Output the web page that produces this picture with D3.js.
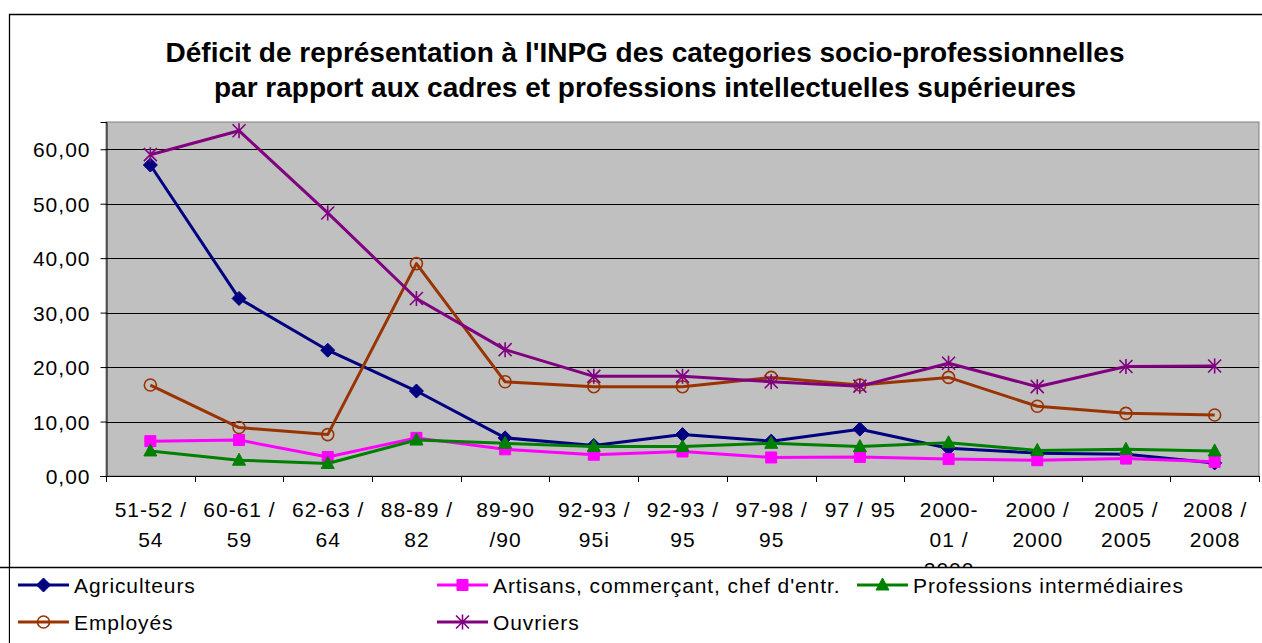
<!DOCTYPE html>
<html>
<head>
<meta charset="utf-8">
<script src="https://cdn.jsdelivr.net/npm/d3@7"></script>
<style>
  body { margin: 0; background: #fff; }
  text { font-family: "Liberation Sans", Arial, sans-serif; fill: #000; }
</style>
</head>
<body>
<div id="chart"></div>
<script>
"use strict";

// == DATA ==
var categories = [
  ["51-52 /", "54"], ["60-61 /", "59"], ["62-63 /", "64"], ["88-89 /", "82"],
  ["89-90", "/90"], ["92-93 /", "95i"], ["92-93 /", "95"], ["97-98 /", "95"],
  ["97 / 95"], ["2000-", "01 /", "2000"], ["2000 /", "2000"], ["2005 /", "2005"], ["2008 /", "2008"]
];
var agriculteurs = [57.1, 32.6, 23.1, 15.6, 7.0, 5.6, 7.6, 6.4, 8.6, 5.1, 4.2, 4.0, 2.4];
var artisans     = [6.4, 6.6, 3.5, 7.0, 4.9, 3.9, 4.5, 3.4, 3.5, 3.1, 2.9, 3.2, 2.6];
var professions  = [4.6, 2.9, 2.3, 6.6, 6.0, 5.4, 5.4, 6.0, 5.4, 6.1, 4.7, 4.9, 4.6];
var employes     = [16.7, 8.9, 7.6, 39.0, 17.3, 16.4, 16.4, 18.1, 16.7, 18.1, 12.8, 11.5, 11.2];
var ouvriers     = [59.0, 63.4, 48.3, 32.6, 23.2, 18.3, 18.3, 17.3, 16.5, 20.7, 16.4, 20.1, 20.2];
var yTicks = [0, 10, 20, 30, 40, 50, 60];

var series = [
  { name: "Agriculteurs", values: agriculteurs, color: "#000080", marker: "diamond" },
  { name: "Artisans, commerçant, chef d'entr.", values: artisans, color: "#FF00FF", marker: "square" },
  { name: "Professions intermédiaires", values: professions, color: "#008000", marker: "triangle" },
  { name: "Employés", values: employes, color: "#993300", marker: "circle" },
  { name: "Ouvriers", values: ouvriers, color: "#800080", marker: "star" }
];

var W = 1262, H = 643;
var plot = { left: 106, right: 1259, top: 122, bottom: 476 };

var svg = d3.select("#chart").append("svg")
  .attr("width", W).attr("height", H);

var x = d3.scaleBand()
  .domain(d3.range(categories.length))
  .range([plot.left, plot.right]);
var y = d3.scaleLinear().domain([0, 65]).range([plot.bottom, plot.top]);

// frame
svg.append("path")
  .attr("d", "M9.5," + H + "V14.5H" + W)
  .attr("fill", "none").attr("stroke", "#000").attr("stroke-width", 1.3);

// title
var title = svg.append("text")
  .attr("text-anchor", "middle")
  .style("font-weight", "bold").style("font-size", "28px");
title.append("tspan").attr("x", 645).attr("y", 62)
  .text("Déficit de représentation à l'INPG des categories socio-professionnelles");
title.append("tspan").attr("x", 645).attr("y", 97)
  .text("par rapport aux cadres et professions intellectuelles supérieures");

// plot area
svg.append("rect")
  .attr("x", plot.left).attr("y", plot.top)
  .attr("width", plot.right - plot.left).attr("height", plot.bottom - plot.top)
  .attr("fill", "#C0C0C0").attr("stroke", "#808080").attr("stroke-width", 1);

// gridlines
svg.selectAll(".grid").data(yTicks.filter(function (d) { return d > 0; }))
  .enter().append("line")
  .attr("x1", plot.left).attr("x2", plot.right)
  .attr("y1", function (d) { return Math.round(y(d)) + 0.5; })
  .attr("y2", function (d) { return Math.round(y(d)) + 0.5; })
  .attr("stroke", "#000").attr("stroke-width", 1);

// y axis
var yAxis = svg.append("g")
  .attr("transform", "translate(" + (plot.left + 0.5) + ",0)")
  .call(d3.axisLeft(y).tickValues(yTicks).tickSize(6).tickPadding(10)
    .tickFormat(function (d) { return d3.format(".2f")(d).replace(".", ","); }));
yAxis.select(".domain").attr("stroke", "#000");
yAxis.selectAll("text")
  .style("font-size", "21px").style("letter-spacing", "1px")
  .attr("font-family", null).attr("dy", "0.36em");

// x axis
var xAxis = svg.append("g")
  .attr("transform", "translate(0," + (plot.bottom + 0.5) + ")")
  .call(d3.axisBottom(x).tickSize(0).tickFormat(""));
xAxis.select(".domain").attr("stroke", "#000").attr("d", "M" + plot.left + ",0H" + plot.right);
svg.selectAll(".xtick").data(d3.range(categories.length + 1))
  .enter().append("line")
  .attr("x1", function (i) { return Math.round(plot.left + i * x.bandwidth()) + 0.5; })
  .attr("x2", function (i) { return Math.round(plot.left + i * x.bandwidth()) + 0.5; })
  .attr("y1", plot.bottom).attr("y2", plot.bottom + 6)
  .attr("stroke", "#000");

var xLabels = svg.selectAll(".xlab").data(categories)
  .enter().append("text")
  .attr("text-anchor", "middle")
  .style("font-size", "21px").style("letter-spacing", "1px");
xLabels.each(function (lines, i) {
  var t = d3.select(this);
  lines.forEach(function (l, k) {
    t.append("tspan")
      .attr("x", x(i) + x.bandwidth() / 2 + 0.5)
      .attr("y", 517 + k * 30)
      .text(l);
  });
});

// markers
function markerPath(type) {
  if (type === "diamond") return "M0,-7L7,0L0,7L-7,0Z";
  if (type === "square") return "M-5.5,-5.5H5.5V5.5H-5.5Z";
  if (type === "triangle") return "M0,-7L6.5,5H-6.5Z";
  if (type === "circle") return d3.symbol().type(d3.symbolCircle).size(Math.PI * 36)();
  return "M0,-7.5V7.5M-6.5,-6.5L6.5,6.5M-6.5,6.5L6.5,-6.5";
}
function drawMarker(g, s) {
  var p = g.append("path").attr("d", markerPath(s.marker));
  if (s.marker === "circle") {
    p.attr("fill", "none").attr("stroke", s.color).attr("stroke-width", 1.6);
  } else if (s.marker === "star") {
    p.attr("fill", "none").attr("stroke", s.color).attr("stroke-width", 1.6);
  } else {
    p.attr("fill", s.color).attr("stroke", s.color).attr("stroke-width", 1);
  }
}

var line = d3.line()
  .x(function (d, i) { return x(i) + x.bandwidth() / 2; })
  .y(function (d) { return y(d); });

series.forEach(function (s) {
  svg.append("path")
    .attr("d", line(s.values))
    .attr("fill", "none").attr("stroke", s.color)
    .attr("stroke-width", 3).attr("stroke-linejoin", "round");
  s.values.forEach(function (v, i) {
    var g = svg.append("g")
      .attr("transform", "translate(" + (x(i) + x.bandwidth() / 2) + "," + y(v) + ")");
    drawMarker(g, s);
  });
});

// legend
svg.append("rect")
  .attr("x", 10).attr("y", 567).attr("width", W).attr("height", H - 567)
  .attr("fill", "#fff");
svg.append("line")
  .attr("x1", 0).attr("x2", W).attr("y1", 567.5).attr("y2", 567.5)
  .attr("stroke", "#000").attr("stroke-width", 1.3);

var legendPos = [[18, 585], [437, 585], [857, 585], [18, 622], [437, 622]];
series.forEach(function (s, i) {
  var g = svg.append("g")
    .attr("transform", "translate(" + legendPos[i][0] + "," + legendPos[i][1] + ")");
  g.append("line").attr("x1", 0).attr("x2", 51).attr("y1", 0).attr("y2", 0)
    .attr("stroke", s.color).attr("stroke-width", 3);
  drawMarker(g.append("g").attr("transform", "translate(25.5,0)"), s);
  g.append("text").attr("x", 56).attr("dy", "0.36em")
    .style("font-size", "21px").style("letter-spacing", "0.9px")
    .text(s.name);
});
</script>
</body>
</html>
